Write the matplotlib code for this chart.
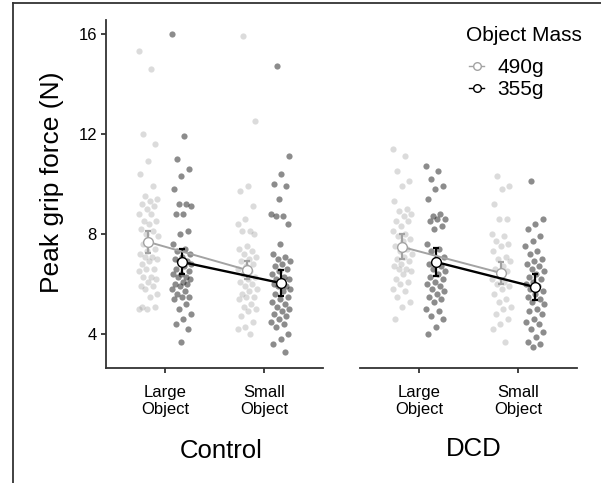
import numpy as np
import matplotlib
matplotlib.use("Agg")
import matplotlib.pyplot as plt
from matplotlib.lines import Line2D

plt.rcParams['font.family'] = ['Liberation Sans', 'DejaVu Sans']

# ---- data ----
groups = ["Control", "DCD"]
sizes = ["Large\nObject", "Small\nObject"]
masses = ["490g", "355g"]

ctrl_large_490 = [15.3, 14.6, 12.0, 11.6, 10.9, 10.4, 9.9, 9.5, 9.4, 9.3, 9.2, 9.1, 9.0, 8.8, 8.8,
                  8.5, 8.5, 8.4, 8.2, 8.1, 8.0, 7.9, 7.7, 7.6, 7.4, 7.3, 7.2, 7.1, 7.1, 7.0, 6.9,
                  6.8, 6.6, 6.6, 6.5, 6.3, 6.3, 6.2, 6.1, 5.9, 5.9, 5.8, 5.6, 5.5, 5.1, 5.1, 5.0, 5.0]
ctrl_large_355 = [16.0, 11.9, 11.0, 10.6, 10.3, 9.8, 9.2, 9.2, 9.1, 8.8, 8.8, 8.1, 8.0, 7.6, 7.4,
                  7.3, 7.2, 7.1, 7.0, 6.9, 6.9, 6.8, 6.7, 6.6, 6.5, 6.4, 6.4, 6.3, 6.3, 6.2, 6.1,
                  6.0, 6.0, 5.9, 5.8, 5.7, 5.6, 5.5, 5.5, 5.4, 5.2, 5.0, 4.8, 4.6, 4.4, 4.2, 3.7]
ctrl_small_490 = [15.9, 12.5, 9.9, 9.7, 9.1, 8.6, 8.4, 8.1, 8.1, 8.0, 7.5, 7.4, 7.3, 7.2, 7.1,
                  7.0, 6.9, 6.8, 6.7, 6.6, 6.5, 6.4, 6.3, 6.2, 6.1, 6.0, 5.9, 5.8, 5.7, 5.6, 5.5,
                  5.5, 5.4, 5.2, 5.1, 5.0, 4.9, 4.7, 4.5, 4.3, 4.2, 4.0]
ctrl_small_355 = [14.7, 11.1, 10.4, 10.0, 9.9, 9.4, 8.8, 8.7, 8.7, 8.4, 7.6, 7.2, 7.1, 7.0, 6.9,
                  6.8, 6.7, 6.6, 6.5, 6.4, 6.3, 6.2, 6.2, 6.1, 6.0, 5.9, 5.9, 5.8, 5.7, 5.6, 5.5,
                  5.4, 5.3, 5.2, 5.1, 5.0, 4.9, 4.8, 4.7, 4.6, 4.5, 4.4, 4.3, 4.0, 3.8, 3.6, 3.3]
dcd_large_490 = [11.4, 11.1, 10.5, 10.1, 9.9, 9.3, 9.0, 8.9, 8.8, 8.7, 8.5, 8.5, 8.3, 8.1, 8.0,
                 7.9, 7.8, 7.7, 7.5, 7.4, 7.3, 7.2, 7.1, 7.0, 6.9, 6.8, 6.7, 6.6, 6.6, 6.5, 6.4,
                 6.2, 6.1, 6.0, 5.8, 5.7, 5.5, 5.3, 5.1, 4.6]
dcd_large_355 = [10.7, 10.5, 10.2, 9.9, 9.8, 9.4, 8.8, 8.7, 8.6, 8.6, 8.5, 8.3, 8.2, 7.6, 7.4,
                 7.3, 7.1, 7.0, 6.8, 6.7, 6.6, 6.5, 6.4, 6.3, 6.2, 6.1, 6.0, 5.9, 5.8, 5.7, 5.6,
                 5.5, 5.4, 5.3, 5.0, 4.9, 4.7, 4.6, 4.3, 4.0]
dcd_small_490 = [10.3, 9.9, 9.8, 9.2, 8.6, 8.6, 8.0, 7.9, 7.7, 7.6, 7.5, 7.3, 7.1, 7.0, 6.9,
                 6.7, 6.6, 6.5, 6.3, 6.2, 6.1, 6.0, 5.9, 5.8, 5.6, 5.4, 5.3, 5.1, 5.0, 4.8, 4.6,
                 4.4, 4.2, 3.7]
dcd_small_355 = [10.1, 8.6, 8.4, 8.2, 7.9, 7.7, 7.5, 7.3, 7.2, 7.0, 6.9, 6.8, 6.7, 6.6, 6.5,
                 6.4, 6.3, 6.2, 6.1, 6.0, 5.9, 5.8, 5.7, 5.6, 5.5, 5.4, 5.3, 5.2, 5.0, 4.9, 4.8,
                 4.6, 4.5, 4.4, 4.2, 4.1, 3.9, 3.7, 3.6, 3.5]

# means and standard errors [Large, Small]
ctrl_mean_490 = [7.68, 6.56]
ctrl_mean_355 = [6.88, 6.04]
dcd_mean_490 = [7.48, 6.44]
dcd_mean_355 = [6.88, 5.88]
ctrl_se_490 = [0.45, 0.35]
ctrl_se_355 = [0.50, 0.50]
dcd_se_490 = [0.50, 0.45]
dcd_se_355 = [0.55, 0.50]

raw = {
    "Control": {"490g": [ctrl_large_490, ctrl_small_490], "355g": [ctrl_large_355, ctrl_small_355]},
    "DCD": {"490g": [dcd_large_490, dcd_small_490], "355g": [dcd_large_355, dcd_small_355]},
}
means = {"Control": {"490g": ctrl_mean_490, "355g": ctrl_mean_355},
         "DCD": {"490g": dcd_mean_490, "355g": dcd_mean_355}}
ses = {"Control": {"490g": ctrl_se_490, "355g": ctrl_se_355},
       "DCD": {"490g": dcd_se_490, "355g": dcd_se_355}}

dodge = {"490g": -0.17, "355g": 0.17}
pt_col = {"490g": ("#999999", 0.35), "355g": ("#1a1a1a", 0.5)}
line_col = {"490g": "#a3a3a3", "355g": "#000000"}
axcol = "#333333"

W, H = 601, 483
fig = plt.figure(figsize=(W / 100, H / 100), dpi=100)


def fx(px):
    return px / W


def fy(py):
    return 1 - py / H


# border from the screenshot
fig.add_artist(Line2D([fx(13), 1], [fy(3), fy(3)], color="#333333", lw=1.3))
fig.add_artist(Line2D([fx(13), fx(13)], [0, fy(3)], color="#333333", lw=1.3))

ax_w = 217 / W
ax_b = (H - 368) / H
ax_h = 348 / H
lefts = [106 / W, 360 / W]

for gi, g in enumerate(groups):
    ax = fig.add_axes([lefts[gi], ax_b, ax_w, ax_h])
    x = np.arange(1, 3)
    for m in masses:
        c, a = pt_col[m]
        for si in range(2):
            vals = np.array(raw[g][m][si])
            n = len(vals)
            jit = ((np.arange(n) * 0.618034 + 0.31 * si) % 1.0 - 0.5) * 0.2
            ax.scatter(x[si] + dodge[m] + jit, vals, s=20, color=c, alpha=a,
                       linewidths=0, zorder=2)
    for m in masses:
        xs = x + dodge[m]
        lw = 1.4 if m == "490g" else 1.7
        ax.errorbar(xs, means[g][m], yerr=ses[g][m], fmt="none", ecolor=line_col[m],
                    elinewidth=1.6, capsize=2, capthick=1.6, zorder=3)
        ax.plot(xs, means[g][m], color=line_col[m], lw=lw, zorder=4,
                marker="o", markersize=7, markerfacecolor="white",
                markeredgecolor=line_col[m], markeredgewidth=1.0)
    ax.set_xlim(0.4, 2.6)
    ax.set_ylim(2.64, 16.56)
    ax.set_xticks(x)
    ax.set_xticklabels(sizes, fontsize=12, linespacing=1.15)
    ax.set_yticks([4, 8, 12, 16])
    ax.set_yticklabels(["4", "8", "12", "16"], fontsize=12)
    for sp in ["top", "right"]:
        ax.spines[sp].set_visible(False)
    ax.spines["bottom"].set_color(axcol)
    ax.spines["bottom"].set_linewidth(1.3)
    ax.spines["left"].set_color(axcol)
    ax.spines["left"].set_linewidth(1.3)
    ax.tick_params(axis="x", length=3.5, width=1.3, color=axcol, pad=9)
    ax.tick_params(axis="y", length=3.5, width=1.3, color=axcol, pad=3)
    if gi == 1:
        ax.spines["left"].set_visible(False)
        ax.tick_params(axis="y", left=False, labelleft=False)
    ax.patch.set_alpha(0)

fig.text(fx(221), fy(451), "Control", fontsize=18.5, ha="center", va="center")
fig.text(fx(474), fy(449), "DCD", fontsize=18.5, ha="center", va="center")
fig.text(fx(52), fy(182), "Peak grip force (N)", fontsize=19, rotation=90,
         ha="center", va="center")

# legend, laid out like the ggplot guide
fig.text(fx(466), fy(41), "Object Mass", fontsize=15, ha="left", va="baseline")
for i, m in enumerate(masses):
    yc = 66 + 22 * i
    fig.add_artist(Line2D([fx(469), fx(484)], [fy(yc), fy(yc)], color=line_col[m], lw=1.0))
    fig.add_artist(Line2D([fx(476.5)], [fy(yc)], marker="o", markersize=5.5,
                          markerfacecolor="white", markeredgecolor=line_col[m],
                          markeredgewidth=1.0, linestyle="none"))
    fig.text(fx(497), fy(yc + 7), m, fontsize=15, ha="left", va="baseline")

fig.savefig("out.png", dpi=100)
